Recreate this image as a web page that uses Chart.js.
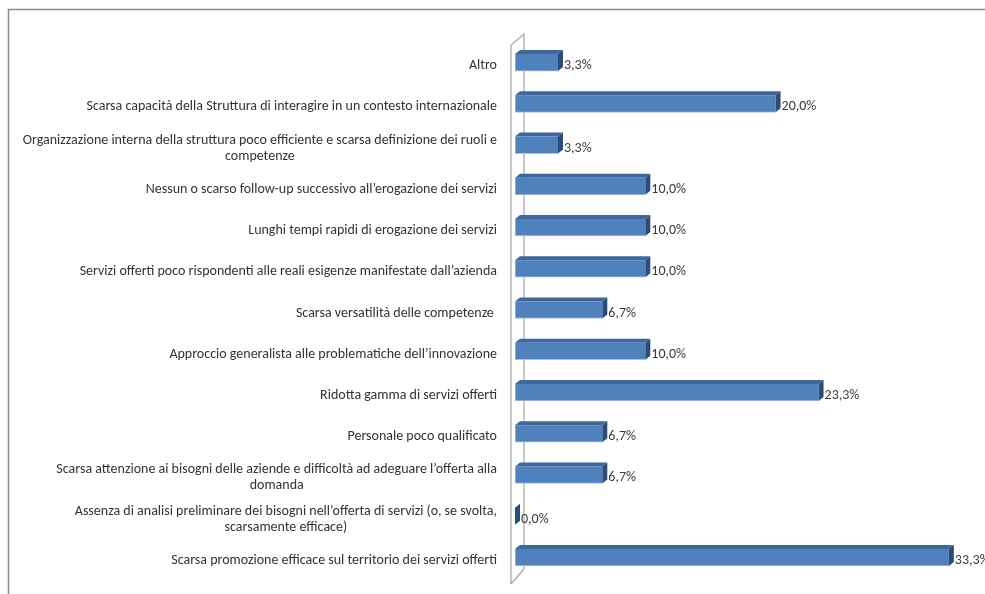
<!DOCTYPE html>
<html>
<head>
<meta charset="utf-8">
<script src="https://cdn.jsdelivr.net/npm/chart.js@4"></script>
<style>
  html, body { margin: 0; padding: 0; background: #fff; }
  #wrap { position: relative; width: 985px; height: 594px; }
</style>
</head>
<body>
<div id="wrap"><canvas id="chart" width="985" height="594"></canvas></div>
<script>
// --- DATA ---
const categories = [
    ['Altro'],
    ['Scarsa capacità della Struttura di interagire in un contesto internazionale'],
    ['Organizzazione interna della struttura poco efficiente e scarsa definizione dei ruoli e', 'competenze'],
    ['Nessun o scarso follow-up successivo all\u2019erogazione dei servizi'],
    ['Lunghi tempi rapidi di erogazione dei servizi'],
    ['Servizi offerti poco rispondenti alle reali esigenze manifestate dall\u2019azienda'],
    ['Scarsa versatilità delle competenze '],
    ['Approccio generalista alle problematiche dell\u2019innovazione'],
    ['Ridotta gamma di servizi offerti'],
    ['Personale poco qualificato'],
    ['Scarsa attenzione ai bisogni delle aziende e difficoltà ad adeguare l\u2019offerta alla', 'domanda'],
    ['Assenza di analisi preliminare dei bisogni nell\u2019offerta di servizi (o, se svolta,', 'scarsamente efficace)'],
    ['Scarsa promozione efficace sul territorio dei servizi offerti']
];
const percentages = [3.3, 20.0, 3.3, 10.0, 10.0, 10.0, 6.7, 10.0, 23.3, 6.7, 6.7, 0.0, 33.3];
const axisMax = 35;

const FONT = '14px Carlito, Calibri, Lato, sans-serif';
const TEXT = '#3a3a3a';
const DEPTH_X = 5, DEPTH_Y = 4;
const TEXT_DROP = 3;

// outer frame, 3D wall and category labels
const frame3d = {
    id: 'frame3d',
    beforeDatasetsDraw(chart) {
        const { ctx, chartArea: a, scales } = chart;
        ctx.save();
        // outer frame (top and left edges)
        ctx.strokeStyle = '#8c8c8c';
        ctx.lineWidth = 1.5;
        ctx.beginPath();
        ctx.moveTo(8.5, 594);
        ctx.lineTo(8.5, 9.5);
        ctx.lineTo(985, 9.5);
        ctx.stroke();

        // wall behind bars
        ctx.strokeStyle = '#a6a6a6';
        ctx.lineWidth = 1.2;
        const fx = a.left - 4, bx = a.left + 9;
        ctx.beginPath();
        ctx.moveTo(fx, a.bottom + 6);
        ctx.lineTo(fx, a.top + 3);
        ctx.lineTo(bx, a.top - 8);
        ctx.lineTo(bx, a.bottom - 9);
        ctx.lineTo(fx, a.bottom + 6);
        ctx.stroke();

        // category labels, each block right-aligned, lines centred within
        ctx.font = FONT;
        ctx.fillStyle = '#333';
        ctx.textBaseline = 'middle';
        ctx.textAlign = 'center';
        const right = a.left - 18, lh = 16;
        categories.forEach((lines, i) => {
            const y = scales.y.getPixelForTick(i) + TEXT_DROP;
            const w = Math.max(...lines.map(l => ctx.measureText(l).width));
            const cx = right - w / 2;
            const y0 = y - (lines.length - 1) * lh / 2;
            lines.forEach((l, k) => {
                const lw = ctx.measureText(l).width;
                // single-line labels keep trailing spaces on the right
                ctx.fillText(l, lines.length === 1 ? right - lw / 2 : cx, y0 + k * lh);
            });
        });
        ctx.restore();
    },
    afterDatasetsDraw(chart) {
        const { ctx } = chart;
        const meta = chart.getDatasetMeta(0);
        ctx.save();
        meta.data.forEach((bar, i) => {
            const l = bar.base, r = bar.x;
            const t = bar.y - bar.height / 2, b = bar.y + bar.height / 2;
            // top face
            ctx.fillStyle = '#3d679d';
            ctx.beginPath();
            ctx.moveTo(l, t);
            ctx.lineTo(l + DEPTH_X, t - DEPTH_Y);
            ctx.lineTo(r + DEPTH_X, t - DEPTH_Y);
            ctx.lineTo(r, t);
            ctx.closePath();
            ctx.fill();
            // side face
            ctx.fillStyle = '#2c4d77';
            ctx.beginPath();
            ctx.moveTo(r, t);
            ctx.lineTo(r + DEPTH_X, t - DEPTH_Y);
            ctx.lineTo(r + DEPTH_X, b - DEPTH_Y);
            ctx.lineTo(r, b);
            ctx.closePath();
            ctx.fill();
            // value label
            ctx.font = FONT;
            ctx.fillStyle = TEXT;
            ctx.textAlign = 'left';
            ctx.textBaseline = 'middle';
            ctx.fillText(percentages[i].toFixed(1).replace('.', ',') + '%', r + DEPTH_X + 1, bar.y + TEXT_DROP);
        });
        ctx.restore();
    }
};

new Chart(document.getElementById('chart'), {
    type: 'bar',
    data: {
        labels: categories,
        datasets: [{
            data: percentages,
            backgroundColor: '#4f81bd',
            borderColor: '#a9c0dd',
            borderWidth: { bottom: 1, left: 1 },
            borderSkipped: false,
            barThickness: 17
        }]
    },
    options: {
        indexAxis: 'y',
        responsive: false,
        animation: false,
        layout: { padding: { left: 515, right: 14, top: 42, bottom: 16 } },
        plugins: { legend: { display: false }, tooltip: { enabled: false } },
        scales: {
            x: { min: 0, max: axisMax, display: false },
            y: { display: false }
        }
    },
    plugins: [frame3d]
});
</script>
</body>
</html>
